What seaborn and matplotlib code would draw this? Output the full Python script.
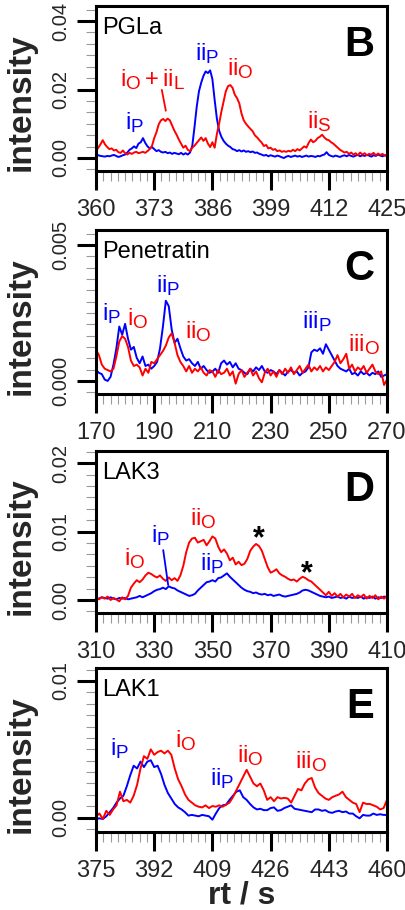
import numpy as np
import matplotlib
matplotlib.use("Agg")
import matplotlib.pyplot as plt
import matplotlib._mathtext as _mathtext
from matplotlib.ticker import AutoMinorLocator, FormatStrFormatter
import seaborn as sns

# ---------------------------------------------------------------------------
# Extracted-ion chromatograms (intensity given in units of 1e-3)
# ---------------------------------------------------------------------------

# PGLa, retention time 360-425 s sampled every 0.5 s
rt_B = np.arange(360.0, 425.01, 0.5)
blue_B = [
    1.0, 0.8, 0.6, 0.5, 0.4, 0.6, 0.5, 0.7, 0.9, 0.6,
    0.3, 0.5, 0.8, 1.0, 1.6, 2.4, 2.8, 3.4, 2.9, 4.2,
    4.6, 5.8, 4.4, 3.4, 2.8, 3.2, 2.6, 2.0, 2.3, 1.8,
    1.6, 1.8, 1.4, 1.6, 1.2, 1.5, 1.3, 1.1, 1.5, 1.0,
    1.4, 1.0, 1.6, 3.5, 9.0, 15.0, 19.5, 22.0, 24.0, 25.3,
    24.8, 25.6, 23.0, 17.0, 11.5, 8.0, 6.2, 5.0, 4.2, 3.6,
    3.2, 2.6, 2.4, 2.0, 2.3, 1.9, 2.2, 1.8, 2.0, 1.7,
    1.9, 1.5, 1.6, 1.2, 1.0, 0.7, 0.9, 0.5, 0.8, 0.6,
    0.4, 0.7, 0.5, 0.2, 0.0, 0.4, 0.6, 0.3, 0.5, 0.7,
    0.4, 0.6, 0.3, 0.5, 0.7, 0.4, 0.6, 0.5, 0.3, 0.6,
    0.5, 0.8, 1.0, 1.7, 0.9, 0.6, 0.4, 0.7, 0.5, 0.3,
    0.6, 0.8, 0.5, 0.9, 0.6, 0.4, 0.7, 0.9, 0.5, 0.8,
    0.6, 0.9, 0.7, 0.4, 0.8, 0.6, 1.0, 0.7, 0.5, 0.8,
    0.6,
]
red_B = [
    2.0, 3.0, 4.0, 5.2, 4.0, 3.2, 2.6, 2.8, 2.2, 2.4,
    1.7, 1.5, 2.2, 1.4, 1.0, 1.5, 1.2, 1.6, 1.8, 1.4,
    1.6, 1.8, 1.5, 2.0, 2.6, 3.5, 5.8, 7.5, 9.8, 11.0,
    11.4, 10.8, 11.5, 11.0, 9.5, 8.0, 6.8, 5.4, 4.2, 3.0,
    3.6, 2.4, 2.0, 3.0, 3.6, 4.4, 5.2, 6.0, 5.0, 5.8,
    4.2, 3.2, 4.6, 3.0, 7.0, 10.0, 13.5, 16.5, 19.5, 21.0,
    21.3, 20.5, 18.5, 17.5, 16.0, 13.0, 11.0, 10.0, 9.2, 8.5,
    7.8, 6.6, 6.0, 5.2, 4.5, 3.5, 3.8, 2.8, 3.0, 2.4,
    2.6, 2.0, 2.2, 1.8, 2.0, 1.8, 2.1, 1.9, 2.4, 2.0,
    2.6, 2.2, 2.8, 3.4, 3.0, 4.4, 5.4, 4.6, 5.0, 5.8,
    6.2, 6.8, 6.0, 5.4, 5.2, 4.6, 4.2, 3.6, 3.0, 2.4,
    2.0, 1.6, 1.8, 1.2, 1.6, 1.0, 1.4, 0.8, 1.6, 1.0,
    1.4, 0.8, 1.2, 1.0, 1.5, 0.8, 1.3, 0.9, 1.2, 0.7,
    1.0,
]

# Penetratin, 170-270 s sampled every 1 s
rt_C = np.arange(170.0, 270.01, 1.0)
blue_C = [
    0.40, 0.30, 0.25, 0.05, 0.00, 0.15, 0.60, 1.20, 2.00, 1.70,
    2.10, 1.55, 1.15, 1.25, 0.85, 0.65, 0.90, 0.55, 0.60, 0.45,
    0.55, 0.70, 1.20, 2.00, 2.95, 2.75, 1.90, 1.40, 1.55, 1.20,
    0.90, 0.75, 0.80, 0.65, 0.55, 0.70, 0.45, 0.55, 0.40, 0.30,
    0.35, 0.45, 0.30, 0.65, 0.75, 0.60, 0.70, 0.50, 0.65, 0.45,
    0.40, 0.30, 0.25, 0.45, 0.35, 0.50, 0.40, 0.55, 0.35, 0.30,
    0.40, 0.35, 0.25, 0.40, 0.30, 0.20, 0.35, 0.40, 0.30, 0.35,
    0.20, 0.30, 0.35, 0.50, 1.05, 1.15, 1.10, 1.20, 1.00, 1.35,
    1.15, 0.95, 0.75, 0.55, 0.45, 0.40, 0.35, 0.45, 0.25, 0.30,
    0.20, 0.35, 0.25, 0.30, 0.20, 0.30, 0.25, 0.35, 0.15, 0.20,
    0.25,
]
red_C = [
    1.15, 0.95, 0.60, 0.45, 0.40, 0.35, 0.45, 0.90, 1.45, 1.65,
    1.55, 1.25, 0.75, 0.55, 0.60, 0.50, 0.20, 0.45, 0.30, 0.70,
    0.65, 0.80, 0.95, 1.10, 1.30, 1.60, 1.75, 1.40, 0.95, 0.70,
    0.55, 0.35, 0.55, 0.30, 0.45, 0.35, 0.50, 0.30, 0.20, 0.40,
    0.35, 0.15, 0.40, 0.25, 0.30, 0.45, 0.20, 0.35, -0.10, 0.25,
    0.40, 0.15, 0.30, 0.45, 0.20, 0.35, 0.10, -0.05, 0.30, 0.45,
    0.20, 0.35, 0.15, 0.40, 0.25, 0.45, 0.30, 0.50, 0.25, 0.40,
    0.55, 0.30, 0.45, 0.60, 0.35, 0.50, 0.40, 0.55, 0.35, 0.50,
    0.40, 0.55, 0.70, 0.95, 0.65, 0.80, 1.00, 0.45, 0.60, 0.35,
    0.50, 0.40, 0.55, 0.30, 0.45, 0.60, 0.35, 0.25, 0.35, -0.15,
    0.05,
]

# LAK3, 310-410 s sampled every 1 s
rt_D = np.arange(310.0, 410.01, 1.0)
blue_D = [
    0.3, 0.2, 0.4, 0.3, 0.2, 0.4, 0.2, 0.1, 0.3, 0.2,
    0.3, 0.1, 0.2, 0.3, 0.4, 0.6, 0.4, 0.6, 0.8, 1.0,
    1.3, 1.5, 1.6, 1.8, 1.6, 2.0, 1.8, 1.7, 1.4, 1.2,
    1.0, 0.8, 0.6, 0.7, 0.9, 1.4, 1.8, 2.2, 2.6, 2.7,
    2.9, 2.7, 3.2, 3.3, 3.6, 3.9, 3.4, 3.0, 2.6, 2.2,
    1.8, 1.5, 1.3, 1.2, 1.0, 1.1, 0.9, 0.8, 0.9, 0.7,
    0.8, 0.6, 0.7, 0.8, 0.6, 0.5, 0.6, 0.7, 0.8, 0.9,
    1.1, 1.4, 1.5, 1.4, 1.2, 1.0, 0.8, 0.6, 0.5, 0.4,
    0.5, 0.3, 0.4, 0.5, 0.3, 0.4, 0.2, 0.5, 0.3, 0.4,
    0.3, 0.5, 0.2, 0.4, 0.3, 0.5, 0.2, 0.4, 0.3, 0.5,
    0.4,
]
red_D = [
    0.3, 0.1, 0.4, 0.2, 0.5, 0.0, 0.3, 0.1, -0.2, 0.4,
    0.1, 0.6, 1.8, 2.4, 2.9, 2.6, 3.0, 3.6, 4.0, 3.8,
    3.5, 3.3, 3.6, 3.1, 2.8, 3.3, 2.9, 3.2, 2.8, 3.6,
    5.0, 7.0, 8.4, 9.0, 9.1, 8.4, 8.6, 8.8, 8.0, 8.6,
    9.3, 9.0, 7.8, 7.0, 7.4, 6.8, 5.8, 6.2, 5.2, 5.6,
    5.1, 5.3, 6.0, 7.2, 7.8, 8.2, 7.9, 7.2, 6.0, 4.8,
    4.0, 4.2, 4.5, 3.9, 3.6, 3.4, 3.1, 2.9, 3.0, 2.7,
    3.1, 3.4, 3.2, 2.9, 2.7, 2.3, 1.9, 1.5, 1.1, 0.7,
    1.2, 0.6, 1.0, 0.5, 0.9, 0.4, 0.8, 0.5, 0.9, 0.3,
    0.7, 0.4, 0.8, 0.2, 0.6, 0.3, 0.7, 0.1, 0.5, 0.2,
    0.6,
]

# LAK1, 375-460 s sampled every 1 s
rt_E = np.arange(375.0, 460.01, 1.0)
blue_E = [
    -0.10, -0.05, -0.10, 0.10, 0.40, 0.70, 1.10, 1.40, 1.60, 2.30,
    3.10, 3.80, 3.60, 4.10, 3.70, 4.10, 4.20, 3.70, 3.80, 3.20,
    2.40, 1.80, 1.40, 1.00, 0.75, 0.60, 0.40, 0.15, 0.20, 0.15,
    0.10, 0.20, 0.15, 0.10, -0.15, 0.30, 0.70, 0.90, 0.95, 1.30,
    1.60, 1.90, 2.00, 1.50, 1.30, 1.00, 0.75, 0.60, 0.65, 0.55,
    0.55, 0.70, 0.75, 0.50, 0.55, 0.70, 0.80, 0.90, 0.65, 0.60,
    0.55, 0.50, 0.45, 0.40, 0.60, 0.60, 0.50, 0.55, 0.40, 0.35,
    0.45, 0.50, 0.40, 0.45, 0.30, 0.30, 0.10, -0.05, 0.20, 0.15,
    0.15, 0.30, 0.20, 0.25, 0.20, 0.20,
]
red_E = [
    0.10, 0.30, -0.10, 0.50, 0.20, 0.60, 0.90, 1.90, 1.20, 1.30,
    1.10, 1.60, 2.40, 3.60, 4.50, 4.30, 5.00, 4.60, 4.80, 4.90,
    4.70, 4.90, 4.60, 3.60, 2.80, 2.30, 1.70, 1.30, 1.10, 0.90,
    0.80, 0.75, 0.90, 0.70, 0.85, 0.80, 0.90, 0.80, 0.95, 1.10,
    1.50, 2.00, 2.50, 3.00, 3.50, 3.00, 2.50, 2.30, 2.50, 2.00,
    1.30, 1.50, 1.20, 1.50, 1.40, 1.45, 1.40, 1.10, 1.60, 2.10,
    2.00, 2.50, 2.80, 2.90, 2.20, 1.80, 1.60, 1.40, 1.30, 1.50,
    1.60, 1.70, 1.90, 1.50, 1.30, 1.10, 1.00, 0.40, 1.10, 1.00,
    1.00, 0.90, 0.80, 0.60, 0.70, 1.30,
]

# Axis ticks
xticks_B = [360, 373, 386, 399, 412, 425]
xticks_C = [170, 190, 210, 230, 250, 270]
xticks_D = [310, 330, 350, 370, 390, 410]
xticks_E = [375, 392, 409, 426, 443, 460]
yticks_B = [0.00, 0.02, 0.04]
yticks_C = [0.000, 0.005]
yticks_D = [0.00, 0.01, 0.02]
yticks_E = [0.00, 0.01]

# Peak labels: (text, rt, intensity at text baseline, colour)
RED, BLUE = "#ff0000", "#0000ff"
labels_B = [
    (r"$\mathregular{i_O+ii_L}$", 372.6, 0.0210, RED),
    (r"$\mathregular{ii_P}$", 384.9, 0.0286, BLUE),
    (r"$\mathregular{ii_O}$", 392.2, 0.0242, RED),
    (r"$\mathregular{i_P}$", 368.7, 0.0084, BLUE),
    (r"$\mathregular{ii_S}$", 409.8, 0.0087, RED),
]
labels_C = [
    (r"$\mathregular{i_P}$", 175.4, 0.00224, BLUE),
    (r"$\mathregular{i_O}$", 184.3, 0.00206, RED),
    (r"$\mathregular{ii_P}$", 194.9, 0.00328, BLUE),
    (r"$\mathregular{ii_O}$", 205.2, 0.00157, RED),
    (r"$\mathregular{iii_P}$", 245.8, 0.00194, BLUE),
    (r"$\mathregular{iii_O}$", 262.1, 0.00108, RED),
]
labels_D = [
    (r"$\mathregular{i_O}$", 323.4, 0.00512, RED),
    (r"$\mathregular{i_P}$", 332.3, 0.00853, BLUE),
    (r"$\mathregular{ii_O}$", 346.9, 0.01097, RED),
    (r"$\mathregular{ii_P}$", 350.0, 0.00439, BLUE),
    ("*", 366.1, 0.00770, "black"),
    ("*", 382.6, 0.00255, "black"),
]
labels_E = [
    (r"$\mathregular{i_P}$", 382.0, 0.00459, BLUE),
    (r"$\mathregular{i_O}$", 401.2, 0.00519, RED),
    (r"$\mathregular{ii_O}$", 420.0, 0.00410, RED),
    (r"$\mathregular{ii_P}$", 411.7, 0.00239, BLUE),
    (r"$\mathregular{iii_O}$", 437.9, 0.00361, RED),
]
# Leader lines: ((rt0, y0), (rt1, y1), colour)
leaders_B = [((374.7, 0.0199), (375.6, 0.0138), RED)]
leaders_D = [((333.1, 0.0073), (334.8, 0.0022), BLUE)]

# ---------------------------------------------------------------------------
# Styling
# ---------------------------------------------------------------------------
sns.set_theme(style="ticks")
plt.rcParams["font.family"] = ["Liberation Sans", "DejaVu Sans"]
plt.rcParams["mathtext.fontset"] = "custom"
plt.rcParams["mathtext.rm"] = "Liberation Sans"
plt.rcParams["mathtext.it"] = "Liberation Sans:italic"
plt.rcParams["mathtext.bf"] = "Liberation Sans:bold"
# larger subscripts for the peak labels
_mathtext.SHRINK_FACTOR = 0.8

W, H = 405, 910
fig = plt.figure(figsize=(W / 100, H / 100), dpi=100)

LEFT, RIGHT = 96, 387

panels = [
    dict(name="PGLa", letter="B", rt=rt_B, blue=blue_B, red=red_B,
         xticks=xticks_B, yticks=yticks_B, ylim=(-0.0038, 0.0444),
         yminor=6, fmt="%.2f", box=(6, 171), labels=labels_B, leaders=leaders_B),
    dict(name="Penetratin", letter="C", rt=rt_C, blue=blue_C, red=red_C,
         xticks=xticks_C, yticks=yticks_C, ylim=(-0.00048, 0.00555),
         yminor=12, fmt="%.3f", box=(230, 394), labels=labels_C, leaders=[]),
    dict(name="LAK3", letter="D", rt=rt_D, blue=blue_D, red=red_D,
         xticks=xticks_D, yticks=yticks_D, ylim=(-0.0019, 0.0218),
         yminor=6, fmt="%.2f", box=(451, 613), labels=labels_D, leaders=leaders_D),
    dict(name="LAK1", letter="E", rt=rt_E, blue=blue_E, red=red_E,
         xticks=xticks_E, yticks=yticks_E, ylim=(-0.00105, 0.01095),
         yminor=12, fmt="%.2f", box=(668, 832), labels=labels_E, leaders=[]),
]

for p in panels:
    top, bottom = p["box"]
    ax = fig.add_axes([LEFT / W, 1 - bottom / H, (RIGHT - LEFT) / W, (bottom - top) / H])

    sns.lineplot(x=p["rt"], y=np.asarray(p["blue"]) * 1e-3, ax=ax,
                 color=BLUE, linewidth=1.4, legend=False)
    sns.lineplot(x=p["rt"], y=np.asarray(p["red"]) * 1e-3, ax=ax,
                 color=RED, linewidth=1.4, legend=False)

    ax.set_xlim(p["xticks"][0], p["xticks"][-1])
    ax.set_ylim(*p["ylim"])
    ax.set_xticks(p["xticks"])
    ax.set_xticklabels([str(t) for t in p["xticks"]])
    ax.set_yticks(p["yticks"])
    ax.yaxis.set_major_formatter(FormatStrFormatter(p["fmt"]))
    ax.xaxis.set_minor_locator(AutoMinorLocator(8))
    ax.yaxis.set_minor_locator(AutoMinorLocator(p["yminor"]))
    ax.set_xlabel("")
    ax.set_ylabel("")

    for s in ax.spines.values():
        s.set_visible(True)
        s.set_color("black")
        s.set_linewidth(2.2)

    ax.tick_params(which="major", direction="out", length=13.5, width=2.2,
                   color="black")
    ax.tick_params(which="minor", direction="out", length=7, width=0.8,
                   color="#9a9a9a")
    ax.tick_params(axis="x", which="major", labelsize=17, pad=7)
    ax.tick_params(axis="y", which="major", labelsize=14.5, pad=5,
                   labelrotation=90)
    for lbl in ax.get_yticklabels():
        lbl.set_verticalalignment("center")

    # Panel name and letter
    ax.text(0.02, 0.935, p["name"], transform=ax.transAxes, fontsize=17,
            ha="left", va="top", color="black")
    ax.text(0.955, 0.885, p["letter"], transform=ax.transAxes, fontsize=30,
            fontweight="bold", ha="right", va="top", color="black")

    # Peak labels
    for text, x, y, c in p["labels"]:
        star = text == "*"
        ax.text(x, y, text, fontsize=22 if star else 17, color=c,
                ha="center", va="baseline",
                fontweight="bold" if star else "normal")
    for (x0, y0), (x1, y1), c in p["leaders"]:
        ax.annotate("", xy=(x1, y1), xytext=(x0, y0),
                    arrowprops=dict(arrowstyle="-", color=c, lw=1.3,
                                    shrinkA=0, shrinkB=0))

    # y-axis title
    fig.text(21.5 / W, 1 - ((top + bottom) / 2 + 14) / H, "intensity",
             rotation=90, ha="center", va="center", fontsize=24,
             fontweight="bold")

fig.text((LEFT + RIGHT) / 2 / W, 1 - 904 / H, "rt / s", ha="center",
         va="baseline", fontsize=23, fontweight="bold")

fig.savefig("out.png", dpi=100)
